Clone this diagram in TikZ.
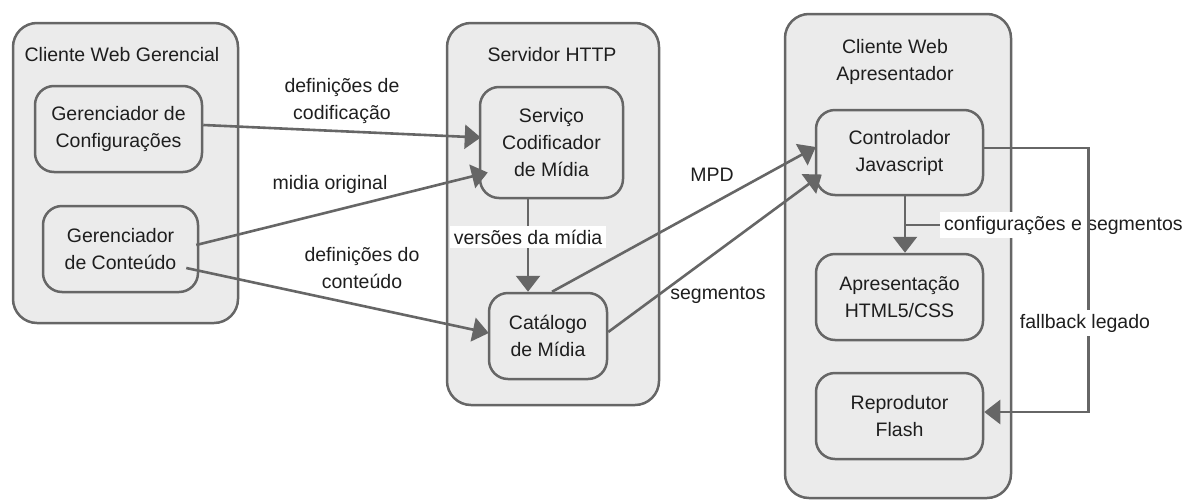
\documentclass[tikz,border=0pt]{standalone}
\usepackage{fontspec}
\setmainfont{Liberation Sans}
\usetikzlibrary{arrows.meta}
\definecolor{ln}{HTML}{666666}
\definecolor{fl}{HTML}{EBEBEB}
\definecolor{tx}{HTML}{1E1E1E}
\begin{document}
\begin{tikzpicture}[x=1pt,y=-1pt,
  font=\fontsize{19.5}{27}\selectfont,
  every node/.style={text=tx},
  container/.style={draw=ln, fill=fl, line width=2.5pt, rounded corners=24pt, inner sep=0pt},
  comp/.style={draw=ln, fill=fl, line width=2.5pt, rounded corners=19pt, align=center, inner sep=0pt},
  ttl/.style={align=center, inner sep=0pt},
  arr/.style={draw=ln, line width=2.6pt, -{Triangle[length=16pt,width=24pt]}},
  plain/.style={draw=ln, line width=2.6pt},
  lbl/.style={fill=white, inner sep=4pt, align=center},
  freelbl/.style={inner sep=2pt, align=center}]
\useasboundingbox (0,0) rectangle (1188,501);

% containers
\node[container, minimum width=225pt, minimum height=300pt] (cwg) at (125.5,173) {};
\node[container, minimum width=212pt, minimum height=382pt] (srv) at (553,214) {};
\node[container, minimum width=226pt, minimum height=484pt] (cwa) at (898,256) {};

\node[ttl] (tcwg) at (122,55) {Cliente Web Gerencial};
\node[ttl] (tsrv) at (552,55) {Servidor HTTP};
\node[ttl] (tcwa) at (895,61.5) {Cliente Web\\Apresentador};

% components
\node[comp, minimum width=167pt, minimum height=86pt] (cfg) at (118.5,129) {Gerenciador de\\Configurações};
\node[comp, minimum width=155pt, minimum height=86pt] (cont) at (120.5,249) {Gerenciador\\de Conteúdo};
\node[comp, minimum width=143pt, minimum height=111pt] (svc) at (551.5,142.5) {Serviço\\Codificador\\de Mídia};
\node[comp, minimum width=118pt, minimum height=86pt] (cat) at (548,336) {Catálogo\\de Mídia};
\node[comp, minimum width=167pt, minimum height=85pt] (ctl) at (899.5,152.5) {Controlador\\Javascript};
\node[comp, minimum width=167pt, minimum height=86pt] (html) at (899.5,297) {Apresentação\\HTML5/CSS};
\node[comp, minimum width=167pt, minimum height=86pt] (flash) at (899.5,416) {Reprodutor\\Flash};

% connectors left
\draw[arr] ([yshift=4pt]cfg.east) -- ([xshift=2pt,yshift=5pt]svc.west);
\draw[arr] ([xshift=-3pt,yshift=4pt]cont.east) -- ([xshift=9pt,yshift=-30pt]svc.west);
\draw[arr] ([xshift=-13pt,yshift=-19pt]cont.east) -- ([xshift=1pt,yshift=3pt]cat.west);

\node[freelbl] (l1) at (342,101) {definições de\\codificação};
\node[freelbl] (l2) at (330,184) {midia original};
\node[freelbl] (l3) at (362,268.5) {definições do\\conteúdo};

% server internal
\coordinate (sa) at ([xshift=-23.5pt]svc.south);
\draw[arr] (sa) -- (sa |- cat.north);
\node[lbl] (l4) at (528,237) {versões da mídia};

% server to presenter
\draw[arr] ([xshift=4pt]cat.north) -- ([xshift=1pt,yshift=5.5pt]ctl.west);
\draw[arr] ([yshift=4pt]cat.east) -- ([xshift=7pt,yshift=-22pt]ctl.west);
\node[freelbl] (l5) at (712,175) {MPD};
\node[freelbl] (l6) at (718,295) {segmentos};

% presenter internal
\coordinate (ca) at ([xshift=5.5pt]ctl.south);
\draw[arr] (ca) -- (ca |- html.north);
\node[lbl, anchor=west] (l7) at (940,225) {configurações e segmentos};
\draw[plain] (l7.west) -- (l7.west -| ca);

\draw[arr] ([yshift=4.5pt]ctl.east) -- ++(104,0) |- ([yshift=4pt]flash.east);
\node[lbl] (l8) at (1085,323) {fallback legado};
\end{tikzpicture}
\end{document}
